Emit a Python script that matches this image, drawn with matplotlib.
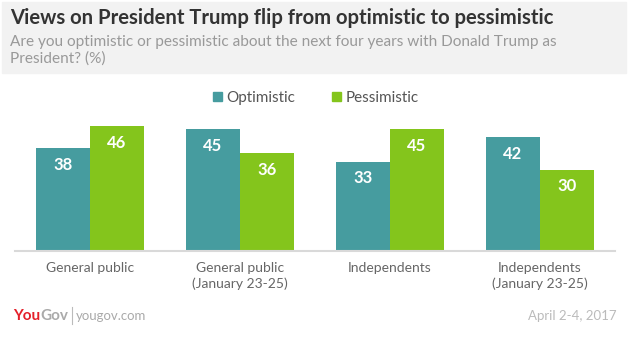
import numpy as np
import matplotlib.pyplot as plt
from matplotlib.patches import Patch, Rectangle

groups = ['General public', 'General public\n(January 23-25)',
          'Independents', 'Independents\n(January 23-25)']
optimistic = [38, 45, 33, 42]
pessimistic = [46, 36, 45, 30]

TEAL = '#469c9f'
GREEN = '#84c51c'
W, H = 629, 338

plt.rcParams['font.family'] = ['Lato', 'DejaVu Sans']

fig = plt.figure(figsize=(W / 100, H / 100), dpi=100)
fig.patch.set_facecolor('white')

def fx(px):
    return px / W

def fy(py):
    return 1 - py / H

# header band
fig.patches.append(Rectangle((fx(2), fy(73)), fx(624), 71 / H,
                             transform=fig.transFigure, color='#f2f2f2', zorder=0))
fig.text(fx(10), fy(24), 'Views on President Trump flip from optimistic to pessimistic',
         fontsize=14.6, fontweight='bold', color='#333333', va='baseline')
fig.text(fx(10), fy(46), 'Are you optimistic or pessimistic about the next four years with Donald Trump as',
         fontsize=11.1, color='#999999', va='baseline')
fig.text(fx(10), fy(63), 'President? (%)', fontsize=11.1, color='#999999', va='baseline')

ax = fig.add_axes([fx(15), fy(251), fx(600), (251 - 115.5) / H])
x = np.arange(len(groups))
bw = 0.36
b1 = ax.bar(x - bw / 2, optimistic, bw, color=TEAL)
b2 = ax.bar(x + bw / 2, pessimistic, bw, color=GREEN)

for bars, vals in ((b1, optimistic), (b2, pessimistic)):
    for rect, v in zip(bars, vals):
        ax.annotate(str(v), (rect.get_x() + rect.get_width() / 2, v),
                    xytext=(0, -12), textcoords='offset points',
                    ha='center', va='center', color='white',
                    fontsize=12, fontweight='bold')

ax.set_xlim(-0.5, 3.5)
ax.set_ylim(0, 50)
ax.set_yticks([])
ax.set_xticks(x)
ax.set_xticklabels(groups, fontsize=10, color='#666666', linespacing=1.35)
ax.tick_params(axis='x', length=0, pad=8)
for s in ('top', 'left', 'right'):
    ax.spines[s].set_visible(False)
ax.spines['bottom'].set_color('#d9d9d9')
ax.spines['bottom'].set_linewidth(1.5)
ax.set_facecolor('none')

handles = [Patch(color=TEAL, label='Optimistic'), Patch(color=GREEN, label='Pessimistic')]
fig.legend(handles=handles, loc='center', bbox_to_anchor=(fx(316), fy(98)), ncol=2,
           frameon=False, fontsize=11, handlelength=0.6, handleheight=0.6,
           handletextpad=0.3, columnspacing=2.4, labelcolor='#555555')

# footer logo: red "You" followed by grey "Gov", a thin divider, then the url
r = fig.canvas.get_renderer()
you = fig.text(fx(13), fy(320), 'You', fontsize=11, fontweight='bold', color='#e4202a',
               va='baseline')
gov = fig.text(you.get_window_extent(r).x1 / W, fy(320), 'Gov', fontsize=11,
               fontweight='bold', color='#aaaaaa', va='baseline')
sep = gov.get_window_extent(r).x1 + 4
fig.lines.append(plt.Line2D([sep / W, sep / W], [fy(324), fy(307)], transform=fig.transFigure,
                            color='#bbbbbb', linewidth=0.8))
fig.text((sep + 4) / W, fy(320), 'yougov.com', fontsize=9.5, color='#aaaaaa', va='baseline')
fig.text(fx(616), fy(320), 'April 2-4, 2017', fontsize=9.5, color='#bbbbbb',
         va='baseline', ha='right')

fig.savefig('out.png', dpi=100)
